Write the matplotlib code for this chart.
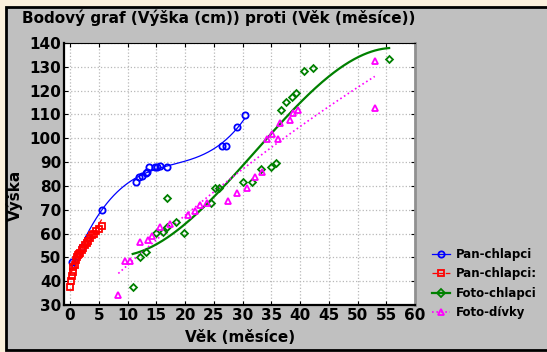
import numpy as np
import matplotlib
matplotlib.use("Agg")
import matplotlib.pyplot as plt
from matplotlib.patches import Rectangle

# Data
blue_x = [0.35, 1.2, 2.0, 3.1, 5.6, 11.4, 12.0, 12.6, 13.2, 13.4, 13.8, 14.8, 15.2, 15.6,
          16.8, 26.5, 27.1, 29.0, 30.4]
blue_y = [47.9, 50.6, 54.5, 58.0, 69.9, 81.5, 83.9, 84.3, 85.5, 86.0, 88.1, 87.8, 88.1, 88.4,
          87.8, 96.9, 96.9, 104.9, 109.8]

red_x = [0.0, 0.2, 0.3, 0.5, 0.6, 0.8, 1.0, 1.2, 1.4, 1.6, 1.8, 2.0, 2.3, 2.6, 2.9, 3.2,
         3.5, 3.8, 4.2, 4.6, 5.0, 5.5]
red_y = [37.5, 40.0, 42.0, 44.0, 46.0, 47.0, 49.0, 50.0, 51.0, 51.5, 52.0, 53.0, 54.0, 55.0,
         56.0, 57.0, 58.0, 59.5, 60.0, 61.0, 62.0, 63.0]

green_x = [10.9, 12.1, 13.2, 14.9, 16.1, 16.9, 16.9, 18.4, 19.9, 24.5, 25.2, 25.9, 30.1, 31.6,
           33.2, 34.9, 35.9, 36.7, 37.6, 38.6, 39.3, 40.7, 42.2, 55.5]
green_y = [37.4, 50.3, 52.4, 60.1, 60.8, 62.9, 74.8, 65.0, 60.1, 73.0, 79.0, 79.0, 81.8, 81.8,
           87.0, 87.9, 89.7, 111.9, 115.2, 117.2, 118.9, 128.4, 129.4, 133.3]

mag_x = [8.4, 9.5, 10.4, 12.2, 13.6, 14.2, 15.6, 17.4, 20.5, 21.7, 22.6, 23.8, 27.4, 29.0,
         30.7, 32.2, 33.4, 34.2, 35.1, 36.1, 36.6, 38.3, 38.7, 39.7, 53.0, 53.0]
mag_y = [34.2, 48.6, 48.6, 56.6, 57.3, 59.0, 62.9, 64.0, 67.8, 69.6, 72.0, 72.7, 73.8, 76.9,
         79.0, 83.9, 85.7, 99.7, 101.8, 99.7, 106.3, 107.7, 110.5, 111.9, 132.5, 112.6]

labels = ["Pan-chlapci", "Pan-chlapci:", "Foto-chlapci", "Foto-dívky"]
x_ticks = list(range(0, 61, 5))
y_ticks = list(range(30, 141, 10))

W, H = 547, 352
fig = plt.figure(figsize=(W / 100, H / 100), dpi=100)
fig.patch.set_facecolor("#FBF0DC")

# gray panel with black border (runs past the right edge like the original)
fig.patches.append(Rectangle((6 / W, 1 - 350 / H), 2.0, (350 - 7) / H, transform=fig.transFigure,
                             facecolor="#C0C0C0", edgecolor="black", linewidth=2, zorder=-5))

ax = fig.add_axes([64 / W, 1 - 305 / H, (415 - 64) / W, (305 - 43) / H])
ax.set_facecolor("white")
ax.set_zorder(1)


def fit_line(x, y, deg):
    c = np.polyfit(x, y, deg)
    xs = np.linspace(min(x), max(x), 200)
    return xs, np.polyval(c, xs)


series = [
    (blue_x, blue_y, "#0000FF", "o", "-", 0.9, 3),
    (red_x, red_y, "#FF0000", "s", "--", 0.9, 1),
    (green_x, green_y, "#008000", "D", "-", 1.6, 3),
    (mag_x, mag_y, "#FF00FF", "^", ":", 1.2, 2),
]
handles = []
for (x, y, col, mk, ls, lw, deg), lab in zip(series, labels):
    xs, ys = fit_line(x, y, deg)
    ax.plot(xs, ys, color=col, linestyle=ls, linewidth=lw, zorder=2)
    ax.plot(x, y, linestyle="none", marker=mk, markersize=4.5 if mk != "D" else 3.5,
            markerfacecolor="none", markeredgecolor=col, markeredgewidth=1.3, zorder=3)
    h, = ax.plot([], [], color=col, linestyle=ls, linewidth=lw, marker=mk, markersize=4.5,
                 markerfacecolor="none", markeredgecolor=col, markeredgewidth=1.3)
    handles.append(h)

ax.set_xlim(-1.05, 60)
ax.set_ylim(30, 140)
ax.set_xticks(x_ticks)
ax.set_yticks(y_ticks)
ax.grid(True, color="#B8B8B8", linestyle=":", linewidth=0.9)
ax.set_axisbelow(True)

ax.tick_params(direction="in", length=3, top=True, right=True, pad=2,
               labelsize=11, width=0.8)
for t in ax.get_xticklabels() + ax.get_yticklabels():
    t.set_fontweight("bold")
ax.spines["left"].set_linewidth(1.6)
ax.spines["bottom"].set_linewidth(1.6)
ax.spines["top"].set_linewidth(0.8)
ax.spines["right"].set_color("#909090")
ax.spines["right"].set_linewidth(2)

fig.text(22 / W, 1 - 18 / H, "Bodový graf (Výška (cm)) proti (Věk (měsíce))",
         fontsize=11, fontweight="bold", ha="left", va="center")
fig.text(240 / W, 1 - 337 / H, "Věk (měsíce)", fontsize=11, fontweight="bold",
         ha="center", va="center")
fig.text(15 / W, 1 - 195 / H, "Výška", fontsize=11, fontweight="bold",
         ha="center", va="center", rotation=90)

fig.legend(handles, labels, loc="upper left", bbox_to_anchor=(432 / W, 1 - 248 / H),
           frameon=False, handlelength=1.5, handletextpad=0.5,
           labelspacing=0.55, borderpad=0, borderaxespad=0,
           prop={"weight": "bold", "size": 8.5})

fig.savefig("out.png", dpi=100, facecolor=fig.get_facecolor())
